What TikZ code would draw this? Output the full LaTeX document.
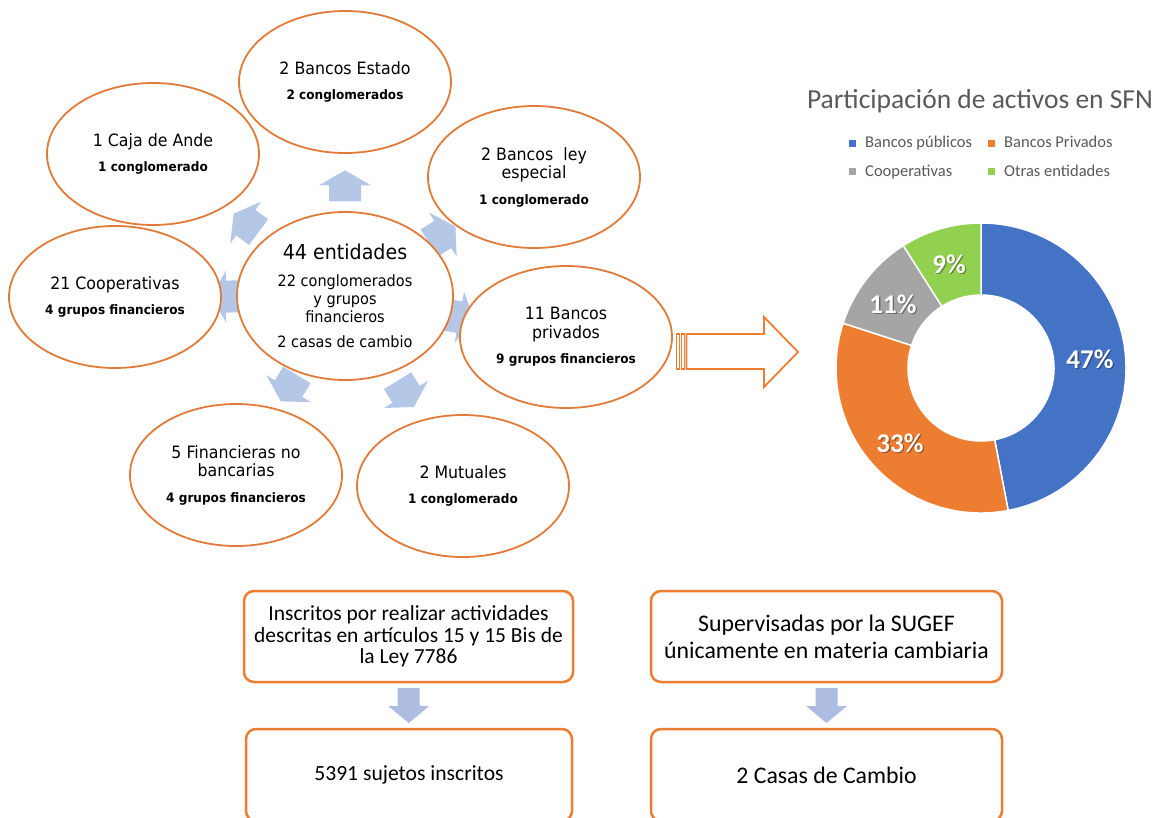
\documentclass[tikz,border=0pt]{standalone}
\usepackage{fontspec}
\setmainfont{Carlito}
\newfontfamily\tah[FakeStretch=0.93]{DejaVu Sans}
\usetikzlibrary{shapes.geometric}
\pgfdeclarelayer{bg}
\pgfsetlayers{bg,main}
\definecolor{eorange}{HTML}{E07B39}
\definecolor{borange}{HTML}{ED7D31}
\definecolor{abl}{HTML}{B4C7E7}
\definecolor{dbl}{HTML}{AFBCE2}
\definecolor{cblue}{HTML}{4472C4}
\definecolor{corange}{HTML}{ED7D31}
\definecolor{cgray}{HTML}{A5A5A5}
\definecolor{cgreen}{HTML}{92D050}
\definecolor{tgray}{HTML}{595959}
\newcommand\mainf{\tah\fontsize{17}{18.5}\selectfont}
\newcommand\subf{\tah\bfseries\fontsize{13}{15}\selectfont}
\begin{document}
\begin{tikzpicture}[x=1pt,y=1pt,
  ell/.style={ellipse, draw=eorange, line width=1.8pt, fill=white,
    minimum width=212pt, minimum height=142pt, inner sep=0pt, align=center, font=\mainf},
  radarrow/.pic={\fill[abl] (-15.5,16) -- (0.5,16) -- (0.5,26) -- (15.5,0) -- (0.5,-26) -- (0.5,-16) -- (-15.5,-16) -- cycle;},
  downarr/.pic={\fill[dbl] (-17.5,11) -- (0.5,11) -- (0.5,20.5) -- (17.5,0) -- (0.5,-20.5) -- (0.5,-11) -- (-17.5,-11) -- cycle;},
  rbox/.style={draw=borange, line width=2.5pt, rounded corners=10pt, fill=white,
    align=center, inner sep=0pt},
  hollow/.style={draw=borange, line width=1.8pt},
  pct/.style={font=\fontsize{27}{30}\selectfont\bfseries, anchor=base, inner sep=0pt},
  legtxt/.style={font=\fontsize{16.5}{18}\selectfont, text=tgray, anchor=base west, inner sep=0pt},
  legsq/.style={minimum size=7pt, inner sep=0pt}
]
\useasboundingbox (0,0) rectangle (1159,-817);
\clip (0,0) rectangle (1159,-817);

% radial ellipses
\node[ell] (estado) at (345,-82) {2 Bancos Estado\\[7pt]\subf 2 conglomerados};
\node[ell] (caja) at (153,-154) {1 Caja de Ande\\[7pt]\subf 1 conglomerado};
\node[ell] (ley) at (534,-177) {2 Bancos\ \ ley\\especial\\[7pt]\subf 1 conglomerado};
\node[ell] (coop) at (115,-297) {21 Cooperativas\\[7pt]\subf 4 grupos financieros};
\node[ell] (priv) at (566,-337) {11 Bancos\\privados\\[7pt]\subf 9 grupos financieros};
\node[ell] (fin) at (236,-475) {5 Financieras no\\bancarias\\[7pt]\subf 4 grupos financieros};
\node[ell] (mut) at (463,-486) {2 Mutuales\\[7pt]\subf 1 conglomerado};
\node[ell, minimum width=216pt, minimum height=168pt, font=\tah\fontsize{15.6}{18}\selectfont] (ctr) at (345,-296)
  {\fontsize{20.5}{22}\selectfont 44 entidades\\[9pt]22 conglomerados\\y grupos\\financieros\\[7pt]2 casas de cambio};

\begin{pgfonlayer}{bg}
\foreach \t in {estado,caja,ley,coop,priv,fin,mut}
  \path (ctr.center) -- (\t.center) pic[pos=0.515, sloped, allow upside down] {radarrow};
\end{pgfonlayer}

% striped hollow arrow
\draw[hollow] (676.5,-334) rectangle (679.5,-369);
\draw[hollow] (681.5,-334) rectangle (684.5,-369);
\draw[hollow] (686.5,-334) -- (764,-334) -- (764,-317) -- (798,-352) -- (764,-387) -- (764,-369) -- (686.5,-369) -- cycle;

% donut chart
\node[font=\fontsize{27.5}{30}\selectfont, text=tgray, anchor=base, inner sep=0pt] (title) at (980,-108) {Participación de activos en SFN};
\node[legsq, fill=cblue] (q1) at (852.5,-143.5) {};
\node[legsq, fill=corange] (q2) at (991.5,-143.5) {};
\node[legsq, fill=cgray] (q3) at (852.5,-171) {};
\node[legsq, fill=cgreen] (q4) at (991.5,-171) {};
\node[legtxt] (l1) at (865,-147) {Bancos públicos};
\node[legtxt] (l2) at (1004,-147) {Bancos Privados};
\node[legtxt] (l3) at (865,-176) {Cooperativas};
\node[legtxt] (l4) at (1004,-176) {Otras entidades};

\begin{scope}[shift={(981,-368)}]
\foreach \a/\b/\c in {90/-79.2/cblue, -79.2/-198/corange, -198/-237.6/cgray, -237.6/-270/cgreen}
  \filldraw[fill=\c, draw=white, line width=1.5pt] (\a:145) arc[start angle=\a, end angle=\b, radius=145]
    -- (\b:73) arc[start angle=\b, end angle=\a, radius=73] -- cycle;
\end{scope}
\foreach \x/\y/\t/\n in {1090/368/47/p1, 900/452/33/p2, 893/313/11/p3, 949/273/9/p4}{
  \node[pct, text=black, opacity=0.35] (\n s) at (\x+1.3,-\y-1.3) {\t\%};
  \node[pct, text=white] (\n) at (\x,-\y) {\t\%};
}

% bottom boxes
\node[rbox, minimum width=329pt, minimum height=91pt, font=\fontsize{21.5}{21.5}\selectfont] (b1) at (408.5,-636.5)
  {Inscritos por realizar actividades\\descritas en artículos 15 y 15 Bis de\\la Ley 7786};
\node[rbox, minimum width=326pt, minimum height=92pt, font=\fontsize{21.6}{24}\selectfont] (b2) at (409,-775)
  {5391 sujetos inscritos};
\node[rbox, minimum width=351pt, minimum height=91pt, font=\fontsize{23.8}{27}\selectfont] (b3) at (826.5,-636.5)
  {Supervisadas por la SUGEF\\únicamente en materia cambiaria};
\node[rbox, minimum width=351pt, minimum height=92pt, font=\fontsize{23.8}{27}\selectfont] (b4) at (826.5,-775)
  {2 Casas de Cambio};
\begin{pgfonlayer}{bg}
\path (b1) -- (b2) pic[midway, sloped, allow upside down] {downarr};
\path (b3) -- (b4) pic[midway, sloped, allow upside down] {downarr};
\end{pgfonlayer}
\end{tikzpicture}
\end{document}
